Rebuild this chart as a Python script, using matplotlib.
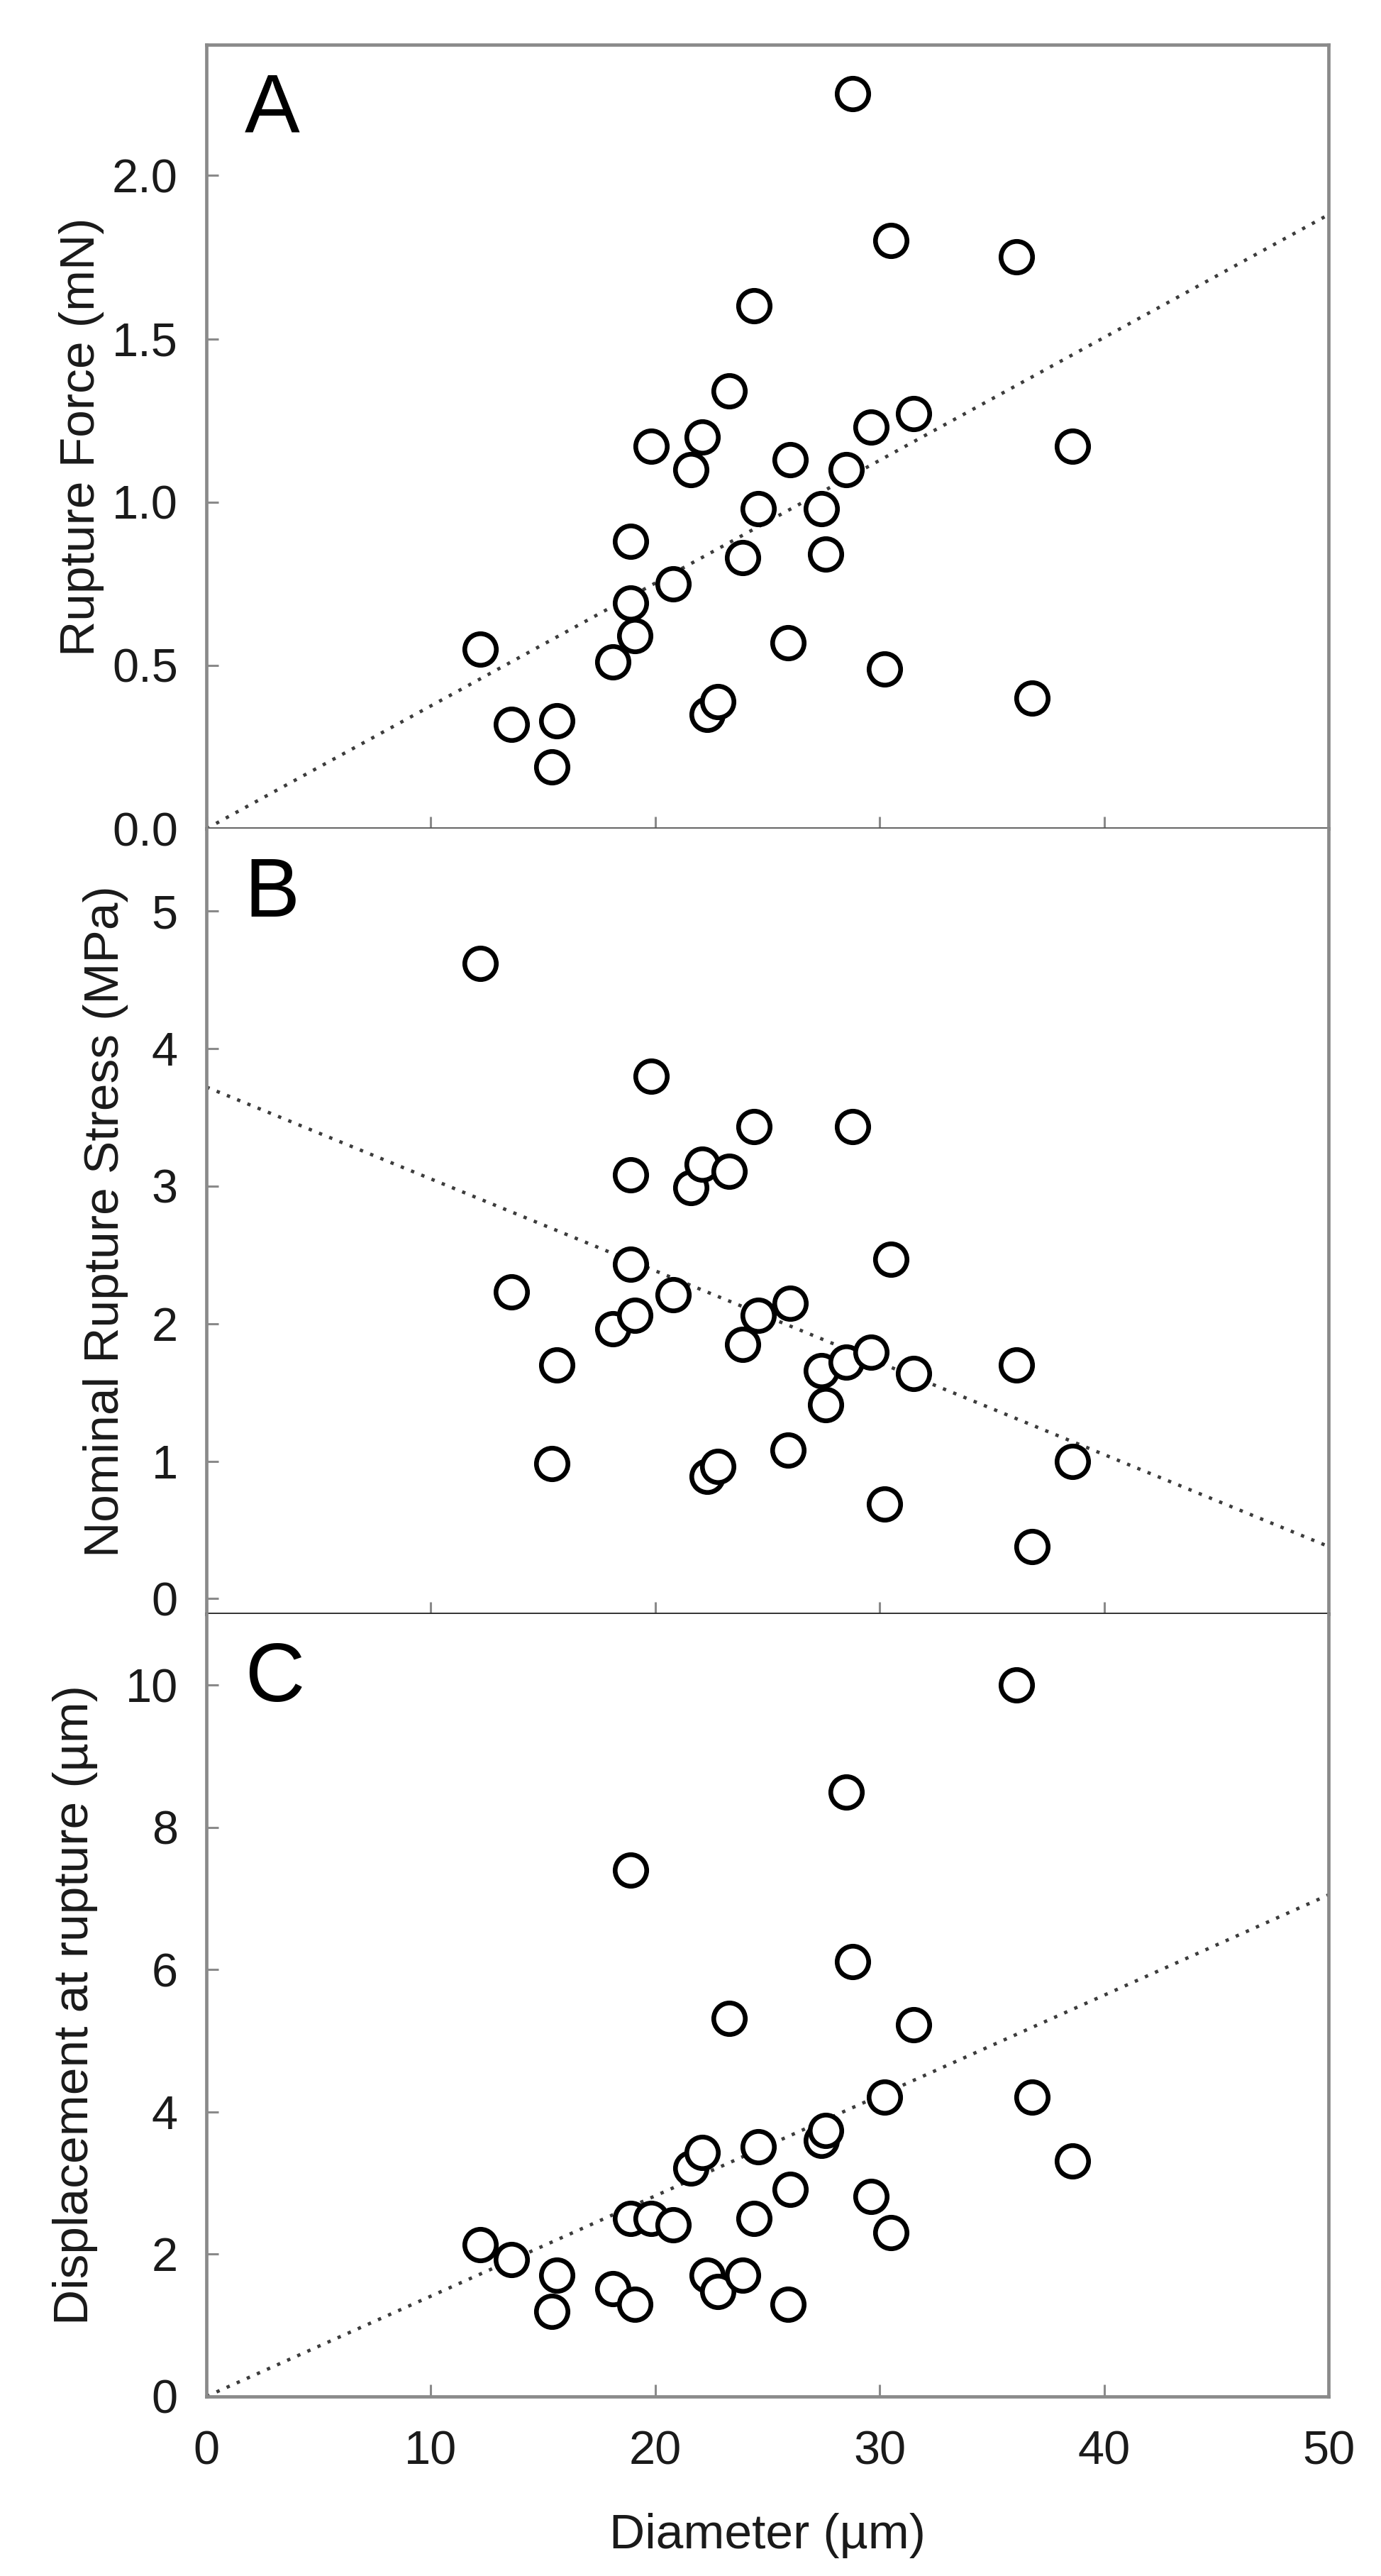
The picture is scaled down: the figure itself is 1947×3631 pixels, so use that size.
import numpy as np
import matplotlib
matplotlib.use("Agg")
import matplotlib.pyplot as plt

plt.rcParams['font.family'] = ['Liberation Sans', 'DejaVu Sans']

# -- data (diameter in um)
diameter = [12.2, 13.6, 15.4, 15.6, 18.1, 18.9, 18.9, 19.1, 19.8, 20.8, 21.6,
            22.1, 22.3, 22.8, 23.3, 23.9, 24.4, 24.6, 25.9, 26.0, 27.4, 27.6,
            28.5, 28.8, 29.6, 30.2, 30.5, 31.5, 36.1, 36.8, 38.6]
force = [0.55, 0.32, 0.19, 0.33, 0.51, 0.88, 0.69, 0.59, 1.17, 0.75, 1.10,
         1.20, 0.35, 0.39, 1.34, 0.83, 1.60, 0.98, 0.57, 1.13, 0.98, 0.84,
         1.10, 2.25, 1.23, 0.49, 1.80, 1.27, 1.75, 0.40, 1.17]
stress = [4.62, 2.23, 0.98, 1.70, 1.96, 3.08, 2.43, 2.06, 3.80, 2.21, 2.99,
          3.16, 0.89, 0.96, 3.11, 1.85, 3.43, 2.06, 1.08, 2.15, 1.66, 1.41,
          1.72, 3.43, 1.79, 0.69, 2.47, 1.64, 1.70, 0.38, 1.00]
displacement = [2.13, 1.92, 1.20, 1.70, 1.51, 7.40, 2.50, 1.30, 2.50, 2.41, 3.21,
                3.43, 1.70, 1.48, 5.31, 1.70, 2.50, 3.51, 1.30, 2.91, 3.60, 3.74,
                8.50, 6.11, 2.81, 4.21, 2.30, 5.22, 10.0, 4.21, 3.31]

# trend lines (slope, intercept)
fit_force = (0.0376, 0.0)
fit_stress = (-0.0668, 3.72)
fit_disp = (0.141, 0.0)

panels = ['A', 'B', 'C']
ylabels = ['Rupture Force (mN)', 'Nominal Rupture Stress (MPa)',
           'Displacement at rupture (\u00b5m)']
yticks = [[0.0, 0.5, 1.0, 1.5, 2.0], [0, 1, 2, 3, 4, 5], [0, 2, 4, 6, 8, 10]]
ytick_labels = [['0.0', '0.5', '1.0', '1.5', '2.0'],
                ['0', '1', '2', '3', '4', '5'],
                ['0', '2', '4', '6', '8', '10']]
ylims = [(0, 2.4), (-0.11, 5.6), (0, 11)]
xticks = [0, 10, 20, 30, 40, 50]

fig = plt.figure(figsize=(19.47, 36.31), dpi=100)

left, width = 0.1495, 0.8125
rects = [(left, 0.6783, width, 0.3043),
         (left, 0.3735, width, 0.3049),
         (left, 0.0697, width, 0.3038)]
label_x = [-0.091, -0.0695, -0.097]

series = [force, stress, displacement]
fits = [fit_force, fit_stress, fit_disp]

spine_col = '#8a8a8a'
for i in range(3):
    ax = fig.add_axes(rects[i])
    xs = np.array([0, 50])
    m, b = fits[i]
    ax.plot(xs, m * xs + b, color='#3c3c3c', lw=3.4, linestyle=(0, (1, 2.3)),
            zorder=2)
    ax.plot(diameter, series[i], 'o', ms=32, mfc='white', mec='black',
            mew=4.8, zorder=3, clip_on=False)
    ax.set_xlim(0, 50)
    ax.set_ylim(*ylims[i])
    ax.set_yticks(yticks[i])
    ax.set_yticklabels(ytick_labels[i])
    ax.set_xticks(xticks)
    ax.tick_params(axis='both', direction='in', length=12, width=2.2,
                   color=spine_col, labelsize=48, labelcolor='#1a1a1a')
    ax.tick_params(axis='y', pad=29)
    ax.tick_params(axis='x', pad=34)
    if i < 2:
        ax.tick_params(axis='x', labelbottom=False)
    else:
        ax.set_xticklabels([str(t) for t in xticks])
        ax.set_xlabel('Diameter (\u00b5m)', fontsize=50, color='#1a1a1a')
        ax.xaxis.set_label_coords(0.5, -0.149)
    ax.set_ylabel(ylabels[i], fontsize=50, color='#1a1a1a')
    ax.yaxis.set_label_coords(label_x[i], 0.5)
    for s in ax.spines.values():
        s.set_color(spine_col)
        s.set_linewidth(3.4)
    if i > 0:
        ax.spines['top'].set_visible(False)
    if i == 0:
        ax.spines['bottom'].set_color('#5a5a5a')
    if i == 1:
        ax.spines['bottom'].set_color('#2a2a2a')
    ax.text(0.034, 0.888, panels[i], transform=ax.transAxes, fontsize=84,
            ha='left', va='baseline', color='black')

fig.savefig('out.png', dpi=100, facecolor='white')
